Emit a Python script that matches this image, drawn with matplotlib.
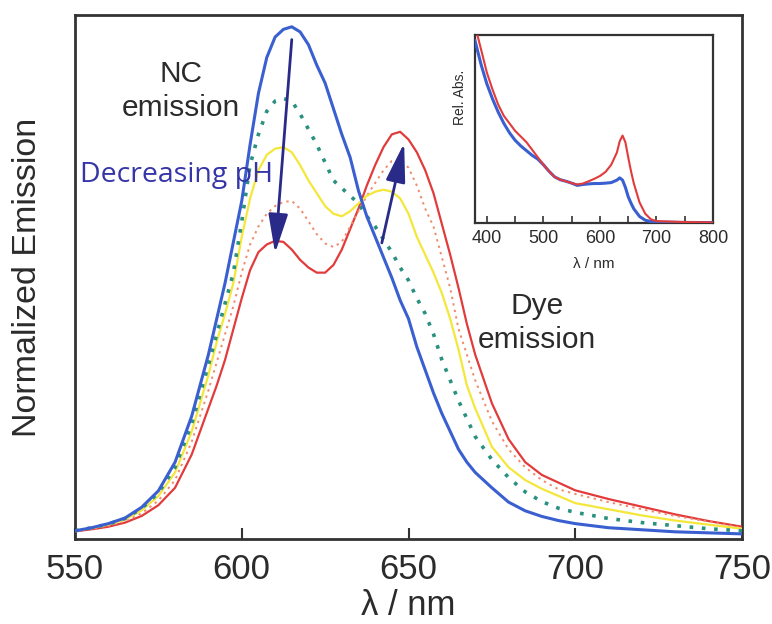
import matplotlib
matplotlib.use("Agg")
import matplotlib.pyplot as plt

plt.rcParams['font.family'] = ['Liberation Sans', 'DejaVu Sans']

# ---------------- main emission data ----------------
wavelength = [550, 555, 560, 565, 570, 575, 580, 585, 590, 592.5, 595, 597.5, 600,
              602.5, 605, 607.5, 610, 612.5, 615, 617.5, 620, 622.5, 625, 627.5, 630,
              632.5, 635, 637.5, 640, 642.5, 645, 647.5, 650, 652.5, 655, 657.5, 660,
              662.5, 665, 667.5, 670, 675, 680, 685, 690, 695, 700, 710, 720, 730, 740, 750]

em_blue = [0.016, 0.022, 0.030, 0.041, 0.062, 0.094, 0.150, 0.240, 0.360, 0.430, 0.500, 0.580, 0.660,
           0.770, 0.870, 0.940, 0.980, 0.995, 1.000, 0.990, 0.965, 0.925, 0.890, 0.840, 0.790,
           0.745, 0.680, 0.630, 0.590, 0.550, 0.510, 0.466, 0.430, 0.375, 0.330, 0.285, 0.245,
           0.210, 0.175, 0.150, 0.130, 0.100, 0.072, 0.055, 0.044, 0.036, 0.030, 0.022, 0.018, 0.014, 0.012, 0.010]

em_teal = [0.016, 0.022, 0.029, 0.040, 0.060, 0.090, 0.140, 0.225, 0.340, 0.400, 0.460, 0.520, 0.620,
           0.730, 0.790, 0.835, 0.855, 0.860, 0.855, 0.830, 0.800, 0.770, 0.735, 0.700, 0.685,
           0.670, 0.655, 0.630, 0.610, 0.585, 0.560, 0.530, 0.505, 0.470, 0.440, 0.400, 0.350,
           0.310, 0.270, 0.235, 0.200, 0.155, 0.120, 0.092, 0.073, 0.060, 0.052, 0.040, 0.032, 0.026, 0.020, 0.016]

em_yellow = [0.016, 0.021, 0.028, 0.038, 0.056, 0.084, 0.130, 0.210, 0.320, 0.385, 0.440, 0.500, 0.590,
             0.665, 0.720, 0.750, 0.762, 0.765, 0.755, 0.730, 0.700, 0.675, 0.650, 0.635, 0.630,
             0.640, 0.655, 0.670, 0.678, 0.682, 0.678, 0.665, 0.635, 0.590, 0.555, 0.520, 0.480,
             0.430, 0.370, 0.300, 0.255, 0.180, 0.140, 0.115, 0.098, 0.084, 0.070, 0.058, 0.046, 0.036, 0.028, 0.020]

em_orange = [0.015, 0.020, 0.026, 0.035, 0.050, 0.075, 0.115, 0.190, 0.290, 0.345, 0.400, 0.455, 0.520,
             0.575, 0.610, 0.635, 0.650, 0.658, 0.660, 0.645, 0.620, 0.595, 0.577, 0.570, 0.580,
             0.610, 0.640, 0.670, 0.695, 0.720, 0.738, 0.740, 0.725, 0.690, 0.645, 0.610, 0.550,
             0.490, 0.410, 0.360, 0.310, 0.230, 0.175, 0.140, 0.115, 0.097, 0.088, 0.072, 0.058, 0.045, 0.034, 0.022]

em_red = [0.015, 0.019, 0.024, 0.032, 0.045, 0.066, 0.100, 0.165, 0.255, 0.300, 0.350, 0.410, 0.470,
          0.525, 0.560, 0.575, 0.582, 0.580, 0.565, 0.545, 0.530, 0.520, 0.520, 0.535, 0.565,
          0.605, 0.645, 0.690, 0.730, 0.765, 0.790, 0.795, 0.780, 0.755, 0.720, 0.675, 0.615,
          0.555, 0.490, 0.420, 0.360, 0.265, 0.195, 0.150, 0.125, 0.110, 0.095, 0.078, 0.063, 0.048, 0.035, 0.024]

main_xticks = [550, 600, 650, 700, 750]

# ---------------- inset absorbance data ----------------
abs_wavelength = [379, 390, 400, 410, 420, 430, 440, 450, 460, 470, 480, 490, 500, 510, 520, 530,
                  540, 550, 560, 570, 580, 590, 600, 610, 620, 630, 635, 640, 645, 650, 655, 660,
                  670, 680, 690, 700, 750, 800]
abs_blue = [0.97, 0.84, 0.74, 0.66, 0.59, 0.53, 0.48, 0.44, 0.41, 0.385, 0.36, 0.34, 0.31, 0.275, 0.245, 0.23,
            0.222, 0.212, 0.200, 0.205, 0.208, 0.210, 0.210, 0.212, 0.215, 0.228, 0.240, 0.228, 0.190, 0.140, 0.105, 0.075,
            0.035, 0.015, 0.008, 0.005, 0.003, 0.002]
abs_red = [1.05, 0.92, 0.80, 0.71, 0.63, 0.57, 0.53, 0.49, 0.46, 0.43, 0.39, 0.35, 0.31, 0.275, 0.245, 0.23,
           0.222, 0.212, 0.205, 0.210, 0.222, 0.235, 0.250, 0.272, 0.310, 0.375, 0.435, 0.465, 0.430, 0.350, 0.275, 0.210,
           0.110, 0.050, 0.020, 0.010, 0.005, 0.003]
inset_xticks_major = [400, 500, 600, 700, 800]
inset_xticks_minor = [450, 550, 650, 750]

W, H = 772, 624
fig = plt.figure(figsize=(W / 100, H / 100), dpi=100)

def px_rect(l, t, r, b):
    return [l / W, 1 - b / H, (r - l) / W, (b - t) / H]

ax = fig.add_axes(px_rect(75, 15, 742, 539))
edge = '#333333'
text_c = '#2b2b2b'

ax.plot(wavelength, em_red, color='#e23b3b', lw=1.6, zorder=3)
ax.plot(wavelength, em_orange, color='#f08a6a', lw=1.4, ls=(0, (1.2, 2.2)), zorder=3)
ax.plot(wavelength, em_yellow, color='#f4e73a', lw=1.6, zorder=3)
ax.plot(wavelength, em_teal, color='#2a9080', lw=2.6, ls=(0, (1.0, 2.4)), zorder=3)
ax.plot(wavelength, em_blue, color='#3a5fd0', lw=2.2, zorder=4)

ax.set_xlim(550, 750)
ax.set_ylim(0, 1.023)
ax.set_xticks(main_xticks)
ax.set_yticks([])
ax.tick_params(axis='x', direction='in', length=8, width=1.5, colors=edge,
               labelsize=25, labelcolor=text_c, pad=10)
for s in ax.spines.values():
    s.set_color(edge)
    s.set_linewidth(2)
ax.set_xlabel('λ / nm', fontsize=25, color=text_c, labelpad=2)
ax.set_ylabel('Normalized Emission', fontsize=24.5, color=text_c, labelpad=23)

arrow_c = '#2a2a88'
arrow_style = '-|>,head_length=1.2,head_width=0.3'
ax.annotate('', xy=(610.0, 0.558), xytext=(615.0, 0.975),
            arrowprops=dict(arrowstyle=arrow_style, mutation_scale=20, color=arrow_c,
                            lw=2, shrinkA=0, shrinkB=0),
            zorder=6)
ax.annotate('', xy=(648.7, 0.773), xytext=(642.0, 0.578),
            arrowprops=dict(arrowstyle=arrow_style, mutation_scale=20, color=arrow_c,
                            lw=2, shrinkA=0, shrinkB=0),
            zorder=6)

fig.text(181 / W, 1 - 91 / H, 'NC\nemission', fontsize=21.5, color=text_c,
         ha='center', va='center', linespacing=1.3)
fig.text(537 / W, 1 - 323 / H, 'Dye\nemission', fontsize=21.5, color=text_c,
         ha='center', va='center', linespacing=1.3)
fig.text(80 / W, 1 - 175 / H, 'Decreasing pH', fontsize=20.5, color='#3535a8',
         ha='left', va='center', family=['Open Sans', 'DejaVu Sans'])

# ---------------- inset ----------------
ai = fig.add_axes(px_rect(475, 35, 713, 223))
ai.plot(abs_wavelength, abs_blue, color='#3a5fd0', lw=2.2, zorder=3)
ai.plot(abs_wavelength, abs_red, color='#e23b3b', lw=1.5, zorder=3)
ai.set_xlim(379, 800)
ai.set_ylim(0, 1.0)
ai.set_xticks(inset_xticks_major)
ai.set_xticks(inset_xticks_minor, minor=True)
ai.set_yticks([])
ai.tick_params(axis='x', which='both', direction='in', length=5, width=1.2, colors=edge,
               labelsize=13, labelcolor=text_c, pad=5)
for s in ai.spines.values():
    s.set_color(edge)
    s.set_linewidth(1.6)
ai.set_xlabel('λ / nm', fontsize=11, color=text_c, labelpad=7)
ai.set_ylabel('Rel. Abs.', fontsize=10, color=text_c)
ai.yaxis.set_label_coords(-0.035, 0.67)

fig.savefig('out.png', dpi=100)
